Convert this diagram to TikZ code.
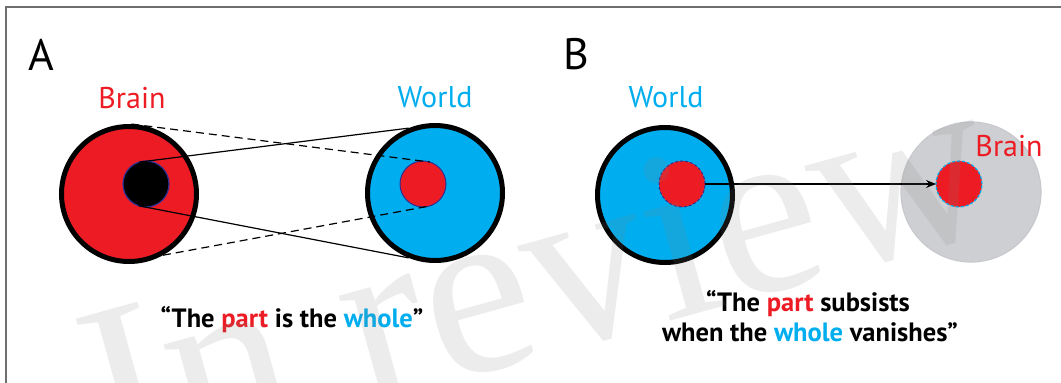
\documentclass[tikz,border=0pt]{standalone}
\usepackage{fontspec}
\setmainfont{PT Sans}
\newfontfamily\wmfont{Liberation Serif}
\usetikzlibrary{arrows.meta}
\definecolor{cred}{RGB}{237,28,36}
\definecolor{ccyan}{RGB}{0,174,239}
\definecolor{cgray}{RGB}{205,207,210}
\definecolor{cgrayedge}{RGB}{199,201,204}
\definecolor{cnavy}{RGB}{46,49,146}
\definecolor{cframe}{RGB}{110,110,110}
\begin{document}
\begin{tikzpicture}[x=1pt,y=-1pt,
  outer/.style={circle, draw=black, line width=5pt, minimum size=135pt, inner sep=0pt, outer sep=2.5pt},
  innerc/.style={circle, minimum size=46pt, inner sep=0pt, outer sep=0pt},
  link/.style={line width=1.2pt, draw=black},
  dlink/.style={line width=1.2pt, draw=black, dash pattern=on 8pt off 5pt},
  lbl/.style={font=\fontsize{30}{36}\selectfont, inner sep=0pt, anchor=base},
  panel/.style={font=\fontsize{44}{50}\selectfont, inner sep=0pt, anchor=base west},
  quotetxt/.style={font=\bfseries\fontsize{26.5}{32}\selectfont, inner sep=0pt, anchor=base}
]
\useasboundingbox (0,0) rectangle (1061,383);
\fill[white] (0,0) rectangle (1061,383);
\draw[cframe, line width=1.2pt] (1061,7) -- (6,7) -- (6,383);

% panel labels
\node[panel] (pA) at (28,70) {A};
\node[panel] (pB) at (563,69) {B};

% Panel A
\node[lbl, text=cred] (brainA) at (132,108) {Brain};
\node[lbl, text=ccyan] (worldAlbl) at (435,107) {World};
\node[outer, fill=cred] (bA) at (129,194) {};
\node[outer, fill=ccyan] (wA) at (435,193) {};
\node[innerc, fill=black, draw=cnavy, line width=1.2pt] (blk) at (146,184) {};
\node[innerc, fill=cred, draw=cnavy, line width=1pt] (rA) at (423,184) {};
\draw[link] (blk.108) -- (wA.112);
\draw[link] (blk.251) -- (wA.248);
\draw[dlink] (bA.88) -- (rA.73);
\draw[dlink] (bA.299) -- (rA.287);
\node[quotetxt] (qA) at (292,327) {“The \textcolor{cred}{part} is the \textcolor{ccyan}{whole}”};

% Panel B
\node[lbl, text=ccyan] (worldBlbl) at (666,107) {World};
\node[outer, fill=ccyan] (wB) at (665,195) {};
\node[innerc, fill=cred, draw=cnavy, line width=1pt, dash pattern=on 3pt off 2pt] (rB1) at (682,184) {};
\node[circle, fill=cgray, draw=cgrayedge, line width=1.2pt, minimum size=140pt, inner sep=0pt] (gB) at (971,192) {};
\node[lbl, text=cred] (brainBlbl) at (1009,156) {Brain};
\node[innerc, fill=cred, draw=ccyan, line width=1.2pt, dash pattern=on 3pt off 2pt] (rB2) at (959,184) {};
\draw[link, -{Stealth[length=10pt,width=8pt]}] (rB1.east) -- (rB2.west);
\node[quotetxt] (qB1) at (808,311) {“The \textcolor{cred}{part} subsists};
\node[quotetxt] (qB2) at (810,341) {when the \textcolor{ccyan}{whole} vanishes”};

% watermark
\begin{scope}
\clip (0,0) rectangle (1061,383);
\node[font=\wmfont\fontsize{244}{244}\selectfont, text=black!50, text opacity=0.15, inner sep=0pt, anchor=base west, rotate=15.5] (wm) at (110,476) {In review};
\end{scope}
\end{tikzpicture}
\end{document}
